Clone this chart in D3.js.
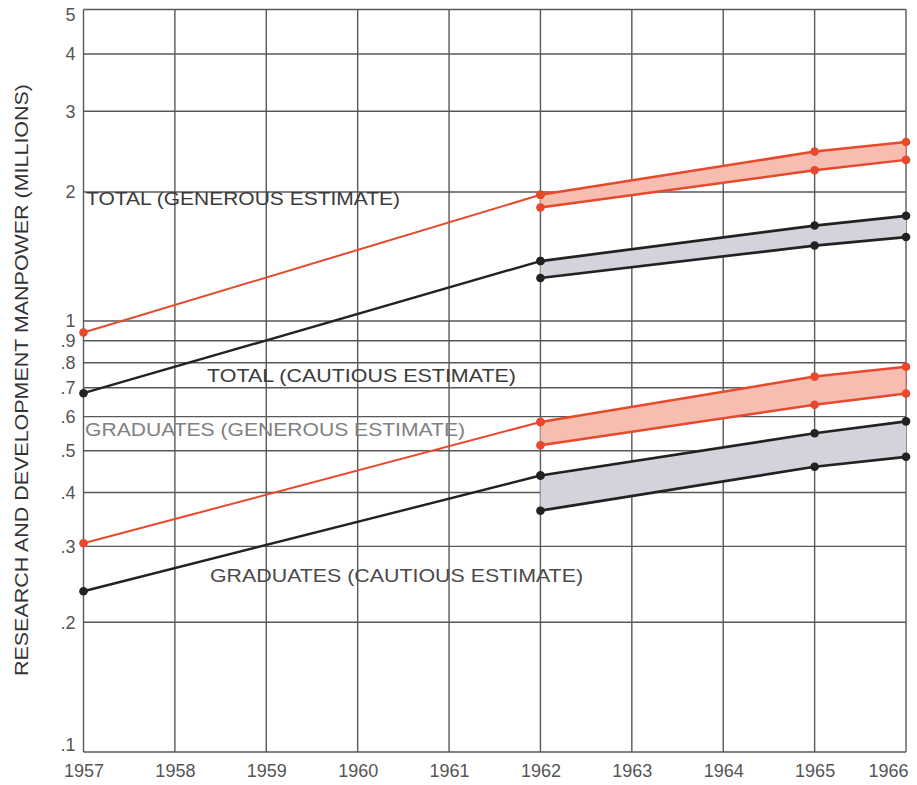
<!DOCTYPE html>
<html><head><meta charset="utf-8">
<script src="https://cdn.jsdelivr.net/npm/d3@7"></script>
<style>body{margin:0;background:#fff}svg{display:block}text{font-family:"Liberation Sans",Arial,sans-serif}</style>
</head><body><svg id="c" width="917" height="785"></svg>
<script>
const years = [1957,1958,1959,1960,1961,1962,1963,1964,1965,1966];
const yTicks = [0.1,0.2,0.3,0.4,0.5,0.6,0.7,0.8,0.9,1,2,3,4,5];
const yTickLabels = [".1",".2",".3",".4",".5",".6",".7",".8",".9","1","2","3","4","5"];
// single trend line 1957 -> 1962
const trendYears = [1957,1962];
const totalGenerousTrend = [0.94,1.97];
const totalCautiousTrend = [0.68,1.38];
const gradGenerousTrend = [0.305,0.583];
const gradCautiousTrend = [0.236,0.438];
// projection bands 1962-1966
const bandYears = [1962,1965,1966];
const totalRedUpper = [1.97,2.45,2.57];
const totalRedLower = [1.84,2.23,2.35];
const totalBlackUpper = [1.38,1.67,1.76];
const totalBlackLower = [1.26,1.50,1.57];
const gradRedUpper = [0.583,0.743,0.783];
const gradRedLower = [0.515,0.639,0.679];
const gradBlackUpper = [0.438,0.549,0.585];
const gradBlackLower = [0.363,0.459,0.484];
const labels = ["TOTAL (GENEROUS ESTIMATE)","TOTAL (CAUTIOUS ESTIMATE)","GRADUATES (GENEROUS ESTIMATE)","GRADUATES (CAUTIOUS ESTIMATE)"];
const yTitle = "RESEARCH AND DEVELOPMENT MANPOWER (MILLIONS)";

const svg = d3.select("#c");
const x = d3.scaleLinear().domain([1957,1966]).range([83.5,906]);
const y = d3.scaleLog().domain([0.1,1,2,5]).range([752,321,192,9.5]);

const RED = "#e8482c", BLACK = "#222", GRID = "#585858";

// grid
const g = svg.append("g");
g.selectAll("line.h").data(yTicks).join("line")
  .attr("x1",x(1957)).attr("x2",x(1966))
  .attr("y1",d=>y(d)).attr("y2",d=>y(d))
  .attr("stroke",GRID).attr("stroke-width",1.4);
g.selectAll("line.v").data(years).join("line")
  .attr("x1",d=>x(d)).attr("x2",d=>x(d))
  .attr("y1",y(5)).attr("y2",y(0.1))
  .attr("stroke",GRID).attr("stroke-width",1.4);

// axes labels
const yAxis = d3.axisLeft(y).tickValues(yTicks).tickFormat((d,i)=>yTickLabels[i]).tickSize(0).tickPadding(8);
const ya = svg.append("g").attr("transform",`translate(${x(1957)},0)`).call(yAxis);
ya.select(".domain").remove();
ya.selectAll("text").style("font-size","18px").style("fill","#555").style("font-family","Liberation Sans, Arial, sans-serif")
  .attr("dy",(d)=> d===5 ? "0.6em" : (d===0.1 ? "-0.1em" : "0.32em"));
const xAxis = d3.axisBottom(x).tickValues(years).tickFormat(d3.format("d")).tickSize(0).tickPadding(12);
const xa = svg.append("g").attr("transform",`translate(0,${y(0.1)})`).call(xAxis);
xa.select(".domain").remove();
xa.selectAll("text").style("font-size","18px").style("fill","#555").style("font-family","Liberation Sans, Arial, sans-serif")
  .attr("text-anchor",d=>d===1966?"end":"middle").attr("dx",d=>d===1966?"2":"0");

// y title
svg.append("text").attr("transform","translate(28,380) rotate(-90)")
  .attr("text-anchor","middle").attr("font-size",19).attr("fill","#333")
  .attr("textLength",592).attr("lengthAdjust","spacingAndGlyphs").text(yTitle);

// bands
const area = d3.area().x(d=>x(d.yr)).y0(d=>y(d.lo)).y1(d=>y(d.hi));
function band(up,lo,fill){
  const data = bandYears.map((yr,i)=>({yr,hi:up[i],lo:lo[i]}));
  svg.append("path").datum(data).attr("d",area).attr("fill",fill);
}
band(totalRedUpper,totalRedLower,"#f6bdb0");
band(totalBlackUpper,totalBlackLower,"#d2d3db");
band(gradRedUpper,gradRedLower,"#f6bdb0");
band(gradBlackUpper,gradBlackLower,"#d2d3db");
function edge(up,lo,color){
  const i = bandYears.length-1;
  svg.append("line").attr("x1",x(bandYears[i])).attr("x2",x(bandYears[i]))
   .attr("y1",y(up[i])).attr("y2",y(lo[i])).attr("stroke",color).attr("stroke-width",1.2).attr("opacity",0.6);
}
edge(totalRedUpper,totalRedLower,RED);
edge(gradRedUpper,gradRedLower,RED);

const line = d3.line().x(d=>x(d[0])).y(d=>y(d[1]));
function series(xs,vals,color,w){
  const data = xs.map((v,i)=>[v,vals[i]]);
  svg.append("path").datum(data).attr("d",line).attr("fill","none").attr("stroke",color).attr("stroke-width",w);
  svg.append("g").selectAll("circle").data(data).join("circle")
    .attr("cx",d=>x(d[0])).attr("cy",d=>y(d[1])).attr("r",4.3).attr("fill",color);
}
series(trendYears,totalGenerousTrend,RED,2);
series(trendYears,totalCautiousTrend,BLACK,2.4);
series(trendYears,gradGenerousTrend,RED,2);
series(trendYears,gradCautiousTrend,BLACK,2.4);
series(bandYears,totalRedUpper,RED,2.5);
series(bandYears,totalRedLower,RED,2.5);
series(bandYears,totalBlackUpper,BLACK,2.7);
series(bandYears,totalBlackLower,BLACK,2.7);
series(bandYears,gradRedUpper,RED,2.5);
series(bandYears,gradRedLower,RED,2.5);
series(bandYears,gradBlackUpper,BLACK,2.7);
series(bandYears,gradBlackLower,BLACK,2.7);

// annotations
const ann = [
  {t:labels[0],x:86,y:205,w:314,c:"#3a3a3a"},
  {t:labels[1],x:207,y:382,w:309,c:"#3a3a3a"},
  {t:labels[2],x:85,y:436,w:380,c:"#808080"},
  {t:labels[3],x:210,y:582,w:373,c:"#4a4a4a"}
];
svg.append("g").selectAll("text").data(ann).join("text")
  .attr("x",d=>d.x).attr("y",d=>d.y).attr("font-size",18).attr("fill",d=>d.c)
  .attr("textLength",d=>d.w).attr("lengthAdjust","spacingAndGlyphs").text(d=>d.t);
</script></body></html>
